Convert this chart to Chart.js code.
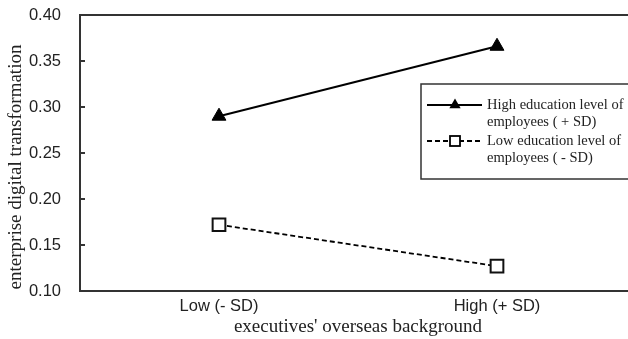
<!DOCTYPE html>
<html>
<head>
<meta charset="utf-8">
<script src="https://cdn.jsdelivr.net/npm/chart.js@4/dist/chart.umd.min.js"></script>
<style>
    html, body { margin: 0; padding: 0; background: #fff; overflow: hidden; }
    #wrap { width: 628px; height: 339px; overflow: hidden; }
</style>
</head>
<body>
<div id="wrap">
    <canvas id="slopeChart" width="647" height="339"></canvas>
</div>
<script>
// Simple slope plot: digital transformation by overseas background

const categories = ['Low (- SD)', 'High (+ SD)'];
const highEduValues = [0.290, 0.366];
const lowEduValues = [0.172, 0.127];
const seriesNames = [
    ['High education level of', 'employees ( + SD)'],
    ['Low education level of', 'employees ( - SD)']
];
const yTitle = 'enterprise digital transformation';
const xTitle = "executives' overseas background";

const SERIF = '"Liberation Serif", "Times New Roman", serif';
const SANS = '"Liberation Sans", Arial, sans-serif';
const AXIS_COLOR = '#333';

// frame line on top, legend box and axis titles
const extrasPlugin = {
    id: 'extras',
    afterDraw(chart) {
        const ctx = chart.ctx;
        const area = chart.chartArea;
        ctx.save();

        // top border of the plot
        ctx.strokeStyle = AXIS_COLOR;
        ctx.lineWidth = 2;
        ctx.beginPath();
        ctx.moveTo(area.left - 1, area.top);
        ctx.lineTo(chart.width, area.top);
        ctx.stroke();

        // axis titles
        ctx.fillStyle = '#222';
        ctx.font = '19px ' + SERIF;
        ctx.textAlign = 'center';
        ctx.textBaseline = 'middle';
        ctx.save();
        ctx.translate(16, 167);
        ctx.rotate(-Math.PI / 2);
        ctx.fillText(yTitle, 0, 0);
        ctx.restore();

        ctx.fillText(xTitle, 358, 327);

        // legend box
        ctx.strokeStyle = AXIS_COLOR;
        ctx.lineWidth = 1.5;
        ctx.strokeRect(421, 84, 240, 95);

        const rows = [105, 141];
        chart.data.datasets.forEach((ds, i) => {
            const y = rows[i];
            ctx.strokeStyle = '#000';
            ctx.lineWidth = 2;
            ctx.setLineDash(ds.borderDash || []);
            ctx.beginPath();
            ctx.moveTo(427, y);
            ctx.lineTo(482, y);
            ctx.stroke();
            ctx.setLineDash([]);

            // marker
            const mx = 455;
            if (ds.pointStyle === 'triangle') {
                const r = 6.5;
                ctx.fillStyle = '#000';
                ctx.beginPath();
                ctx.moveTo(mx, y - r);
                ctx.lineTo(mx + r * Math.sin(Math.PI / 3), y + r / 2);
                ctx.lineTo(mx - r * Math.sin(Math.PI / 3), y + r / 2);
                ctx.closePath();
                ctx.fill();
            } else {
                const s = 5;
                ctx.fillStyle = '#fff';
                ctx.fillRect(mx - s, y - s, 2 * s, 2 * s);
                ctx.lineWidth = 1.8;
                ctx.strokeRect(mx - s, y - s, 2 * s, 2 * s);
            }

            ctx.fillStyle = '#222';
            ctx.font = '14.5px ' + SERIF;
            ctx.textAlign = 'left';
            ctx.textBaseline = 'middle';
            seriesNames[i].forEach((line, j) => {
                ctx.fillText(line, 487, y + j * 17.5);
            });
        });

        ctx.restore();
    }
};

const ctx = document.getElementById('slopeChart').getContext('2d');

new Chart(ctx, {
    type: 'line',
    data: {
        labels: categories,
        datasets: [{
            label: seriesNames[0].join(' '),
            data: highEduValues,
            borderColor: '#000',
            borderWidth: 2,
            pointStyle: 'triangle',
            pointRadius: 8,
            pointBackgroundColor: '#000',
            pointBorderColor: '#000',
            pointBorderWidth: 1,
            tension: 0
        }, {
            label: seriesNames[1].join(' '),
            data: lowEduValues,
            borderColor: '#000',
            borderWidth: 1.8,
            borderDash: [5, 3],
            pointStyle: 'rect',
            pointRadius: 9,
            pointBackgroundColor: '#fff',
            pointBorderColor: '#111',
            pointBorderWidth: 2,
            tension: 0
        }]
    },
    options: {
        responsive: false,
        animation: false,
        layout: {
            padding: { top: 15, right: 4, left: 0, bottom: 0 }
        },
        plugins: {
            legend: { display: false },
            tooltip: { enabled: false }
        },
        scales: {
            x: {
                offset: true,
                afterFit: function(scale) { scale.height = 48; },
                grid: {
                    display: true,
                    drawOnChartArea: false,
                    drawTicks: false
                },
                border: { display: true, color: AXIS_COLOR, width: 2 },
                ticks: {
                    color: '#222',
                    padding: 6,
                    font: { family: SANS, size: 16.5 }
                }
            },
            y: {
                min: 0.1,
                max: 0.4,
                afterFit: function(scale) {
                    scale.width = 80;
                    // keep the tick padding from pushing the plot down
                    scale.paddingTop = 0;
                    scale.paddingBottom = 0;
                },
                grid: {
                    drawOnChartArea: false,
                    drawTicks: true,
                    tickLength: -5,
                    color: AXIS_COLOR,
                    lineWidth: 2
                },
                border: { display: true, color: AXIS_COLOR, width: 2 },
                ticks: {
                    stepSize: 0.05,
                    color: '#222',
                    padding: 24,
                    font: { family: SANS, size: 16.5 },
                    callback: function(value) {
                        return value.toFixed(2);
                    }
                }
            }
        }
    },
    plugins: [extrasPlugin]
});
</script>
</body>
</html>
